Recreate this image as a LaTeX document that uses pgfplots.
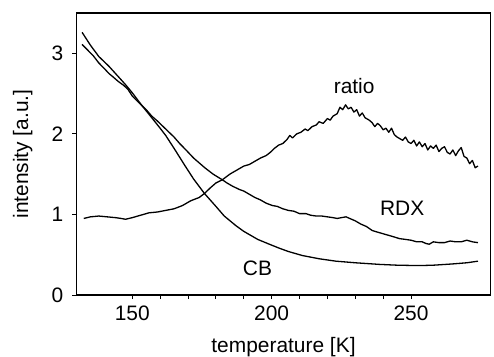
\documentclass[border=0pt]{standalone}
\usepackage{fontspec}
\setmainfont{Liberation Sans}
\usepackage{pgfplots}
\pgfplotsset{compat=1.18}
\begin{document}
\fontsize{21}{25}\selectfont
\begin{tikzpicture}
\begin{axis}[
  at={(0,0)}, anchor=south west,
  scale only axis, width=414bp, height=282bp,
  xmin=130, xmax=278.5, ymin=0, ymax=3.5,
  xtick={150,200,250}, ytick={0,1,2,3},
  minor x tick num=4,
  xtick pos=bottom, ytick pos=left,
  tick align=outside,
  major tick length=4bp, minor tick length=4bp,
  every tick/.style={black, line width=1bp},
  axis line style={line width=1.3bp},
  /pgf/number format/assume math mode=true,
  tick label style={font=\fontsize{21}{25}\selectfont},
  yticklabel style={xshift=-2bp},
  xlabel={temperature [K]}, ylabel={intensity [a.u.]},
  label style={font=\fontsize{21}{25}\selectfont},
  xlabel style={at={(axis description cs:0.5,-0.204)}, anchor=base},
  ylabel style={at={(axis description cs:-0.117,0.5)}, anchor=base},
]
% CB
\addplot[black, mark=none, line width=1.3bp, line join=round] coordinates {
(132.0,3.26) (135,3.10) (138,2.96) (141.6,2.84) (145,2.71) (147.6,2.61)
(150,2.51) (153.5,2.35) (157,2.20) (160,2.07) (162,1.98) (165,1.82)
(169,1.60) (172,1.44) (175.9,1.26) (180,1.10) (183,0.98) (187.2,0.86)
(190,0.79) (195,0.69) (199.2,0.63) (202.8,0.58) (206,0.54) (211,0.49)
(217,0.45) (223,0.42) (230,0.40) (238.6,0.38) (245,0.37) (252.9,0.365)
(258,0.37) (264.7,0.385) (270,0.40) (274,0.42)
};
% RDX
\addplot[black, mark=none, line width=1.3bp, line join=round] coordinates {
(132.0,3.11) (134,3.04) (136,2.97) (138,2.88) (140,2.81) (141.6,2.75)
(143,2.71) (145,2.65) (147,2.60) (148.5,2.55) (150,2.47) (152,2.40)
(153.5,2.35) (155,2.30) (157,2.22) (159,2.16) (162,2.06) (165,1.96)
(167,1.88) (169,1.81) (172,1.70) (174,1.64) (176,1.58) (179,1.50)
(182.3,1.43) (184,1.39) (186,1.35) (188.4,1.31) (190,1.29) (192,1.25)
(194,1.21) (196,1.18) (198,1.14) (200.3,1.11) (202,1.10) (204,1.07)
(206,1.05) (208,1.04) (210,1.01) (212.3,1.01) (214,0.99) (216,0.98)
(218,0.98) (220,0.97) (222,0.96) (223.5,0.95) (225,0.96) (226.7,0.97)
(228,0.95) (230,0.92) (232,0.88) (234,0.85) (236.1,0.80) (238,0.78)
(240,0.76) (242,0.74) (244,0.72) (245.8,0.70) (248,0.69) (250,0.68)
(252,0.66) (254,0.66) (255.3,0.64) (256.5,0.63) (258,0.66) (260,0.65)
(262,0.65) (264,0.67) (266,0.66) (268,0.66) (270,0.68) (272,0.66) (274,0.65)
};
% ratio
\addplot[black, mark=none, line width=1.3bp, line join=round] coordinates {
(132.6,0.95) (135,0.97) (138,0.98) (141,0.97) (144,0.96) (146,0.95)
(147.6,0.94) (150,0.96) (152,0.98) (154,1.00) (156,1.02) (159,1.03)
(162,1.05) (165,1.07) (168,1.11) (171,1.17) (174,1.21) (175.9,1.26)
(178,1.33) (180,1.39) (182.3,1.43) (185,1.50) (188,1.56) (190,1.60)
(192,1.62) (194,1.66) (196,1.70) (198,1.73) (199.5,1.77) (201,1.82)
(202.5,1.86) (204,1.88) (205.5,1.93) (206.5,1.98) (207.5,1.95) (209,2.00)
(210.5,2.02) (212,2.06) (213,2.04) (214.5,2.09) (216,2.11) (217,2.15)
(218.5,2.13) (220,2.19) (221,2.17) (222,2.22) (223.5,2.25) (224.5,2.33)
(225.5,2.30) (226.5,2.36) (227.5,2.31) (228.5,2.33) (229.5,2.27) (230.5,2.30)
(231.5,2.22) (232.5,2.26) (233.5,2.20) (235,2.17) (236,2.14) (237,2.09)
(238,2.13) (239,2.10) (240,2.05) (241,2.07) (242,2.02) (243,2.07)
(244,1.99) (245,1.96) (246,1.94) (247,1.92) (248,1.96) (249,1.90)
(250,1.88) (251,1.92) (252,1.85) (253,1.90) (254,1.84) (255,1.88)
(256,1.80) (257,1.85) (258,1.82) (259,1.86) (260,1.78) (261,1.82)
(262,1.84) (263,1.77) (264,1.75) (265,1.80) (266,1.73) (267,1.79)
(268,1.83) (269,1.72) (270,1.70) (271,1.63) (272,1.67) (273,1.58) (274,1.60)
};
\node at (axis cs:229.6,2.59) {ratio};
\node at (axis cs:246.8,1.07) {RDX};
\node at (axis cs:194.9,0.33) {CB};
\end{axis}
\pgfresetboundingbox
\path[use as bounding box] (-76.5bp,-62bp) rectangle (417.5bp,295bp);
\end{tikzpicture}
\end{document}
